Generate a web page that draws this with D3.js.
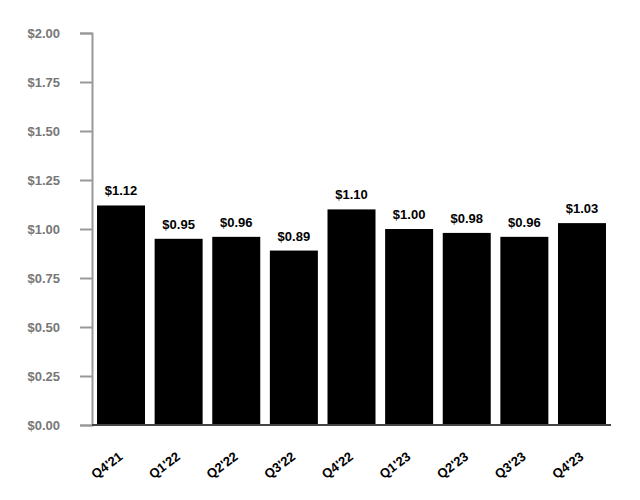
<!DOCTYPE html>
<html>
<head>
<meta charset="utf-8">
<script src="https://cdn.jsdelivr.net/npm/d3@7"></script>
<style>
  body { margin: 0; background: #fff; }
  svg text { font-family: "Liberation Sans", Arial, sans-serif; font-weight: bold; }
</style>
</head>
<body>
<script>
// quarters and dividend per share
var quarters = ["Q4'21", "Q1'22", "Q2'22", "Q3'22", "Q4'22", "Q1'23", "Q2'23", "Q3'23", "Q4'23"];
var values = [1.12, 0.95, 0.96, 0.89, 1.10, 1.00, 0.98, 0.96, 1.03];
var yTicks = [0, 0.25, 0.5, 0.75, 1.0, 1.25, 1.5, 1.75, 2.0];

var width = 640, height = 500;
var plotLeft = 92, plotRight = 611, plotTop = 33, plotBottom = 425;

var svg = d3.select("body").append("svg")
  .attr("width", width)
  .attr("height", height);

var x = d3.scaleBand()
  .domain(quarters)
  .range([plotLeft, plotRight])
  .paddingInner(0.167)
  .paddingOuter(0.087);

var y = d3.scaleLinear().domain([0, 2]).range([plotBottom, plotTop]);

// y axis
var yAxis = svg.append("g")
  .attr("transform", "translate(" + plotLeft + ",0)")
  .call(d3.axisLeft(y).tickValues(yTicks).tickSize(12).tickPadding(20)
    .tickFormat(function (d) { return "$" + d3.format(".2f")(d); }));
yAxis.select(".domain").attr("stroke", "#999").attr("stroke-width", 2);
yAxis.selectAll(".tick line").attr("stroke", "#999").attr("stroke-width", 2);
yAxis.selectAll(".tick text").attr("fill", "#777").style("font-size", "13px");

// bars
svg.selectAll(".bar").data(values).enter().append("rect")
  .attr("class", "bar")
  .attr("x", function (d, i) { return x(quarters[i]); })
  .attr("y", function (d) { return y(d); })
  .attr("width", x.bandwidth())
  .attr("height", function (d) { return plotBottom - y(d); })
  .attr("fill", "#000");

// value labels
svg.selectAll(".val").data(values).enter().append("text")
  .attr("class", "val")
  .attr("x", function (d, i) { return x(quarters[i]) + x.bandwidth() / 2; })
  .attr("y", function (d) { return y(d) - 10; })
  .attr("text-anchor", "middle")
  .style("font-size", "13px")
  .attr("fill", "#000")
  .text(function (d) { return "$" + d3.format(".2f")(d); });

// x baseline
svg.append("line")
  .attr("x1", plotLeft).attr("x2", plotRight)
  .attr("y1", plotBottom).attr("y2", plotBottom)
  .attr("stroke", "#444").attr("stroke-width", 2);

// x labels (rotated)
svg.selectAll(".xl").data(quarters).enter().append("text")
  .attr("class", "xl")
  .attr("transform", function (d) {
    return "translate(" + (x(d) + x.bandwidth() / 2 - 3) + "," + 451 + ") rotate(-37)";
  })
  .attr("text-anchor", "end")
  .attr("dy", "0.7em")
  .style("font-size", "13px")
  .attr("fill", "#000")
  .text(function (d) { return d; });
</script>
</body>
</html>
